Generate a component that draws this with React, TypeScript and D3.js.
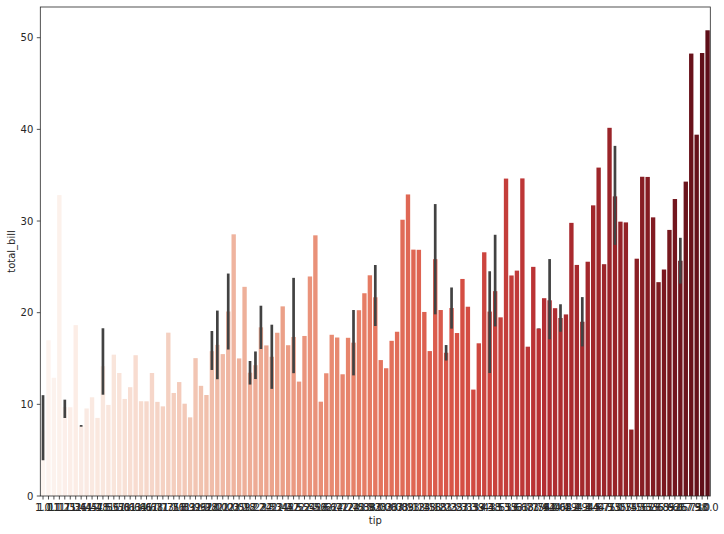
import React from "react";
import * as d3 from "d3";

// Categories: unique tip values (as seaborn prints them)
const tips: string[] = [
  "1.0","1.01","1.1","1.17","1.25","1.32","1.36","1.44","1.45","1.47","1.48","1.5","1.56","1.57","1.58","1.61","1.63","1.64","1.66","1.67","1.68","1.71","1.73","1.75","1.76","1.8","1.83","1.92","1.96","1.97","1.98",
  "2.0","2.01","2.02","2.03","2.05","2.09","2.18","2.2","2.23","2.24","2.3","2.31","2.34","2.45","2.47","2.5","2.52","2.54","2.55","2.56","2.6","2.61","2.64","2.71","2.72","2.74","2.75","2.83","2.88","2.92",
  "3.0","3.02","3.06","3.07","3.08","3.09","3.11","3.12","3.14","3.15","3.16","3.18","3.21","3.23","3.25","3.27","3.31","3.35","3.39","3.4","3.41","3.48","3.5","3.51","3.55","3.6","3.61","3.68","3.71","3.75","3.76","3.92",
  "4.0","4.06","4.08","4.19","4.2","4.29","4.3","4.34","4.5","4.67","4.71","4.73",
  "5.0","5.07","5.14","5.15","5.16","5.17","5.2","5.6","5.65","5.85","5.92",
  "6.0","6.5","6.7","6.73","7.58","9.0","10.0",
];

// Mean total_bill per tip
const meanBill: number[] = [
  7.17,16.99,12.9,32.83,9.7,9.68,18.64,7.65,9.55,10.77,8.52,14.16,9.94,15.42,13.42,10.59,11.87,15.36,10.34,10.33,13.42,10.27,9.78,17.82,11.24,12.43,10.07,8.58,15.04,12.02,11.02,
  15.8,16.49,15.48,20.13,28.55,15.01,22.82,13.45,14.27,18.4,16.43,15.19,17.81,20.69,16.45,17.35,12.48,17.46,23.95,28.44,10.29,13.39,17.59,17.29,13.28,17.26,16.73,20.27,22.12,24.08,
  21.68,14.83,13.94,16.93,17.92,30.14,32.9,26.88,26.86,20.08,15.81,25.84,20.29,15.63,20.51,17.78,23.68,20.65,11.61,16.66,26.59,20.12,22.35,19.49,34.63,24.06,24.59,34.65,16.29,25.0,18.27,21.58,
  21.35,20.49,19.42,19.81,29.8,25.21,19.01,25.56,31.71,35.83,25.29,40.17,
  32.69,29.93,29.85,7.25,25.89,34.83,34.81,30.4,23.33,24.71,29.03,
  32.4,25.67,34.3,48.27,39.42,48.33,50.81,
];

// 95% CI error bars (only where a tip has more than one bill)
const errTips: string[] = ["1.0","1.25","1.44","1.5","2.0","2.01","2.03","2.2","2.23","2.24","2.31","2.5","2.75","3.0","3.18","3.23","3.25","3.48","3.5","3.76","4.0","4.08","4.3","5.0","6.5"];
const errLow: number[] = [3.9,8.51,7.56,11.05,13.75,12.74,15.98,12.16,12.76,16.04,11.69,13.4,13.16,18.55,19.82,14.78,18.26,13.42,18.5,18.24,17.1,17.92,16.32,27.4,23.17];
const errHigh: number[] = [11.0,10.51,7.74,18.3,18.0,20.23,24.27,14.73,15.77,20.76,18.69,23.8,20.29,25.2,31.85,16.47,22.75,24.52,28.5,18.29,25.85,20.92,21.7,38.2,28.17];

const yTicks: number[] = [0, 10, 20, 30, 40, 50];

// matplotlib "Reds" colormap anchors
const redsAnchors = ["#fff5f0","#fee0d2","#fcbba1","#fc9272","#fb6a4a","#ef3b2c","#cb181d","#a50f15","#67000d"];

function mplReds(x: number): string {
  const idx = Math.min(255, Math.floor(x * 256));
  const t = idx / 255;
  const seg = t * (redsAnchors.length - 1);
  const i = Math.min(redsAnchors.length - 2, Math.floor(seg));
  const f = seg - i;
  const a = d3.rgb(redsAnchors[i]);
  const b = d3.rgb(redsAnchors[i + 1]);
  return d3.rgb(a.r + (b.r - a.r) * f, a.g + (b.g - a.g) * f, a.b + (b.b - a.b) * f).formatHex();
}

function desaturate(c: string, prop: number): string {
  const h = d3.hsl(c);
  if (!isNaN(h.s)) h.s = h.s * prop;
  return h.formatHex();
}

const W = 724, H = 534;
const left = 40.3, right = 710.3, top = 7, bottom = 496;
const FONT = "DejaVu Sans";
const TXT = "#262626";

export default function App() {
  const x = d3.scaleBand<string>().domain(tips).range([left, right]).paddingInner(0.2).paddingOuter(0.1);
  const ymax = d3.max(meanBill)! * 1.05;
  const y = d3.scaleLinear().domain([0, ymax]).range([bottom, top]);
  const n = tips.length;
  const colors = tips.map((_, i) => desaturate(mplReds((i + 1) / (n + 1)), 0.75));
  const bw = x.bandwidth();

  return (
    <svg width={W} height={H} style={{ position: "absolute", left: 0, top: 0, background: "#fff" }} fontFamily={FONT}>
      <rect x={0} y={0} width={W} height={H} fill="#fff" />
      {tips.map((t, i) => (
        <rect key={t} x={x(t)!} y={y(meanBill[i])} width={bw} height={y(0) - y(meanBill[i])} fill={colors[i]} />
      ))}
      {errTips.map((t, i) => (
        <line key={"e" + t} x1={x(t)! + bw / 2} x2={x(t)! + bw / 2} y1={y(errLow[i])} y2={y(errHigh[i])} stroke="#424242" strokeWidth={2.7} />
      ))}
      {/* spines */}
      <rect x={left} y={top} width={right - left} height={bottom - top} fill="none" stroke={TXT} strokeWidth={0.8} />
      {/* y ticks */}
      {yTicks.map((v) => (
        <g key={"y" + v}>
          <line x1={left - 3.5} x2={left} y1={y(v)} y2={y(v)} stroke={TXT} strokeWidth={0.8} />
          <text x={left - 7} y={y(v) + 3.6} textAnchor="end" fontSize={10} fill={TXT}>{v}</text>
        </g>
      ))}
      {/* x ticks */}
      {tips.map((t) => (
        <g key={"x" + t}>
          <line x1={x(t)! + bw / 2} x2={x(t)! + bw / 2} y1={bottom} y2={bottom + 3.5} stroke={TXT} strokeWidth={0.8} />
          <text x={x(t)! + bw / 2} y={511} textAnchor="middle" fontSize={10} fill={TXT}>{t}</text>
        </g>
      ))}
      <text x={(left + right) / 2} y={524} textAnchor="middle" fontSize={10} fill={TXT}>tip</text>
      <text transform={`translate(15,${(top + bottom) / 2}) rotate(-90)`} textAnchor="middle" fontSize={10} fill={TXT}>total_bill</text>
    </svg>
  );
}
